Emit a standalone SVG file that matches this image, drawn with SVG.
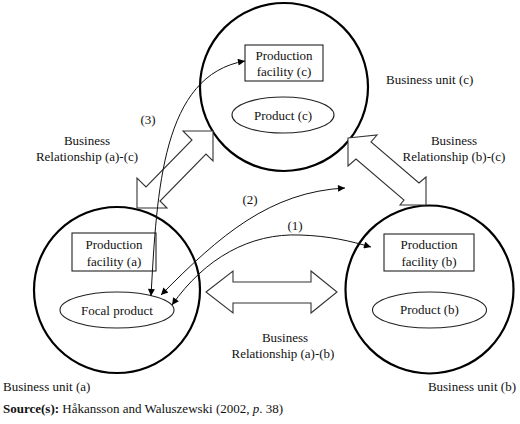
<svg xmlns="http://www.w3.org/2000/svg" width="520" height="424" viewBox="0 0 520 424">
<style>
  text { font-family: "Liberation Serif", "Times New Roman", serif; font-size: 13px; fill: #111; }
  .c { text-anchor: middle; }
  .unit { fill: none; stroke: #000; stroke-width: 2.2; }
  .box { fill: #fff; stroke: #222; stroke-width: 1.1; }
  .blk { fill: #fff; stroke: #333; stroke-width: 1.1; stroke-linejoin: miter; }
  .flow { fill: none; stroke: #111; stroke-width: 1; marker-start: url(#ah); marker-end: url(#ah); }
</style>
<defs>
  <marker id="ah" viewBox="0 0 10 10" refX="10" refY="5" markerWidth="9" markerHeight="7" orient="auto-start-reverse" markerUnits="userSpaceOnUse">
    <path d="M0,0 L10,5 L0,10 z" fill="#000"/>
  </marker>
</defs>
<rect width="520" height="424" fill="#fff"/>

<g id="unit-c">
  <circle class="unit" cx="284" cy="87" r="84"/>
  <rect class="box" x="245" y="45" width="78" height="36"/>
  <text class="c" x="284" y="59.5">Production</text>
  <text class="c" x="284" y="76">facility (c)</text>
  <ellipse class="box" cx="283" cy="115" rx="51" ry="18"/>
  <text class="c" x="283" y="119.5">Product (c)</text>
  <text x="386" y="84">Business unit (c)</text>
</g>

<g id="unit-a">
  <circle class="unit" cx="117" cy="290" r="83"/>
  <rect class="box" x="72" y="233" width="84" height="38"/>
  <text class="c" x="114" y="249">Production</text>
  <text class="c" x="114" y="265.5">facility (a)</text>
  <ellipse class="box" cx="117" cy="310" rx="57" ry="18"/>
  <text class="c" x="117" y="315">Focal product</text>
  <text x="3" y="391">Business unit (a)</text>
</g>

<g id="unit-b">
  <circle class="unit" cx="429.5" cy="289.5" r="84"/>
  <rect class="box" x="384" y="234" width="90" height="37"/>
  <text class="c" x="429" y="249">Production</text>
  <text class="c" x="429" y="265.5">facility (b)</text>
  <ellipse class="box" cx="429.5" cy="310" rx="57" ry="18"/>
  <text class="c" x="429.5" y="314">Product (b)</text>
  <text x="516" y="391" text-anchor="end">Business unit (b)</text>
</g>

<g id="rel-ac">
  <polygon class="blk" points="137,208 137,178 146,187 192,140 183,131 213,131 213,161 206,154 160,201 167,208"/>
  <text class="c" x="87" y="145">Business</text>
  <text class="c" x="87" y="161">Relationship (a)-(c)</text>
</g>

<g id="rel-bc">
  <polygon class="blk" points="348,138 377,135 371,142 419,183 426,177 426,205 400,205 404,200 356,159 348,166"/>
  <text class="c" x="454" y="145">Business</text>
  <text class="c" x="454" y="161">Relationship (b)-(c)</text>
</g>

<g id="rel-ab">
  <polygon class="blk" points="206,292 233,271 233,282 311,282 311,271 337,292 311,313 311,303 233,303 233,313"/>
  <text class="c" x="285" y="342">Business</text>
  <text class="c" x="283" y="358">Relationship (a)-(b)</text>
</g>

<g id="connectors">
  <path class="flow" d="M151,296 C157,190 162,75 245,61"/>
  <path class="flow" d="M161,295 C220,235 270,192 345,188"/>
  <path class="flow" d="M172,305 C205,258 250,233 300,235 C330,236 350,241 371,247"/>
  <text class="c" x="148" y="124">(3)</text>
  <text class="c" x="250" y="204">(2)</text>
  <text class="c" x="295" y="230">(1)</text>
</g>

<text x="3" y="413"><tspan font-weight="bold">Source(s):</tspan> Håkansson and Waluszewski (2002, <tspan font-style="italic">p</tspan>. 38)</text>
</svg>
